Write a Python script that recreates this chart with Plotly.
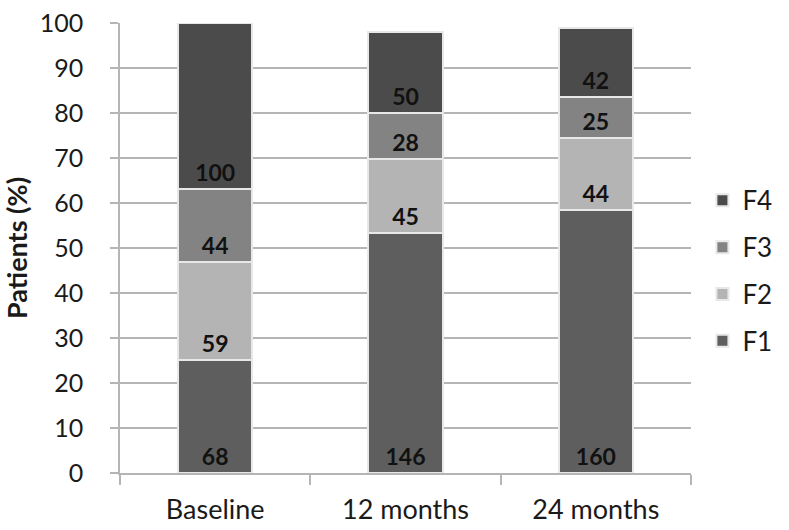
import plotly.graph_objects as go

# Datos (porcentaje de pacientes y numero de pacientes)
categorias = ['Baseline', '12 months', '24 months']
series = ['F1', 'F2', 'F3', 'F4']
pct_f1 = [25.1, 53.3, 58.4]
pct_f2 = [21.8, 16.4, 16.1]
pct_f3 = [16.2, 10.2, 9.1]
pct_f4 = [36.9, 18.2, 15.3]
n_f1 = [68, 146, 160]
n_f2 = [59, 45, 44]
n_f3 = [44, 28, 25]
n_f4 = [100, 50, 42]
y_ticks = [0, 10, 20, 30, 40, 50, 60, 70, 80, 90, 100]

valores = [pct_f1, pct_f2, pct_f3, pct_f4]
conteos = [n_f1, n_f2, n_f3, n_f4]
colores = ['#5e5e5e', '#b4b4b4', '#838383', '#4b4b4b']

fig = go.Figure()
for i, (nombre, vals, cnt, col) in enumerate(zip(series, valores, conteos, colores)):
    fig.add_trace(go.Bar(
        x=categorias,
        y=vals,
        name=nombre,
        legendgroup=nombre,
        legendrank=10 - i,  # F4 arriba en la leyenda
        text=[str(c) for c in cnt],
        textposition='inside',
        insidetextanchor='start',
        textangle=0,
        constraintext='none',
        textfont=dict(family='Lato', size=23, color='#111111', weight='bold'),
        marker=dict(color=col, line=dict(color='#e8e8e8', width=2)),
        hovertemplate='<b>%{x}</b><br>' + nombre + ': %{y:.1f}%<extra></extra>'
    ))

fig.update_layout(
    barmode='stack',
    bargap=0.61,
    width=789,
    height=530,
    margin=dict(l=120, r=92, t=23, b=57),
    plot_bgcolor='white',
    paper_bgcolor='white',
    font=dict(family='Lato', size=22, color='#1a1a1a'),
    showlegend=True,
    legend=dict(
        x=1.02, xanchor='left',
        y=0.449, yanchor='middle',
        traceorder='grouped',
        tracegroupgap=10,
        font=dict(size=26, color='#1a1a1a'),
        itemwidth=30,
        bgcolor='rgba(0,0,0,0)'
    )
)

fig.update_yaxes(
    range=[0, 100],
    tickvals=y_ticks,
    automargin=False,
    showgrid=True, gridcolor='#b5b5b5', gridwidth=1.5,
    showline=True, linecolor='#b5b5b5', linewidth=1.5,
    ticks='outside', ticklen=8, tickcolor='#b5b5b5', tickwidth=1.5,
    ticklabelstandoff=22,
    tickfont=dict(size=25),
    title=dict(text='<b>Patients (%)</b>', font=dict(size=27), standoff=10),
    zeroline=False
)
fig.update_xaxes(
    automargin=False,
    showgrid=False,
    showline=True, linecolor='#b5b5b5', linewidth=1.5,
    ticks='outside', tickson='boundaries', ticklen=10,
    tickcolor='#b5b5b5', tickwidth=1.5,
    ticklabelstandoff=12,
    tickfont=dict(size=27)
)

# quitar el margen por defecto del body para que la figura ocupe la ventana
fig.write_html("out.html", config={'displayModeBar': False},
               post_script="document.body.style.margin='0';")
